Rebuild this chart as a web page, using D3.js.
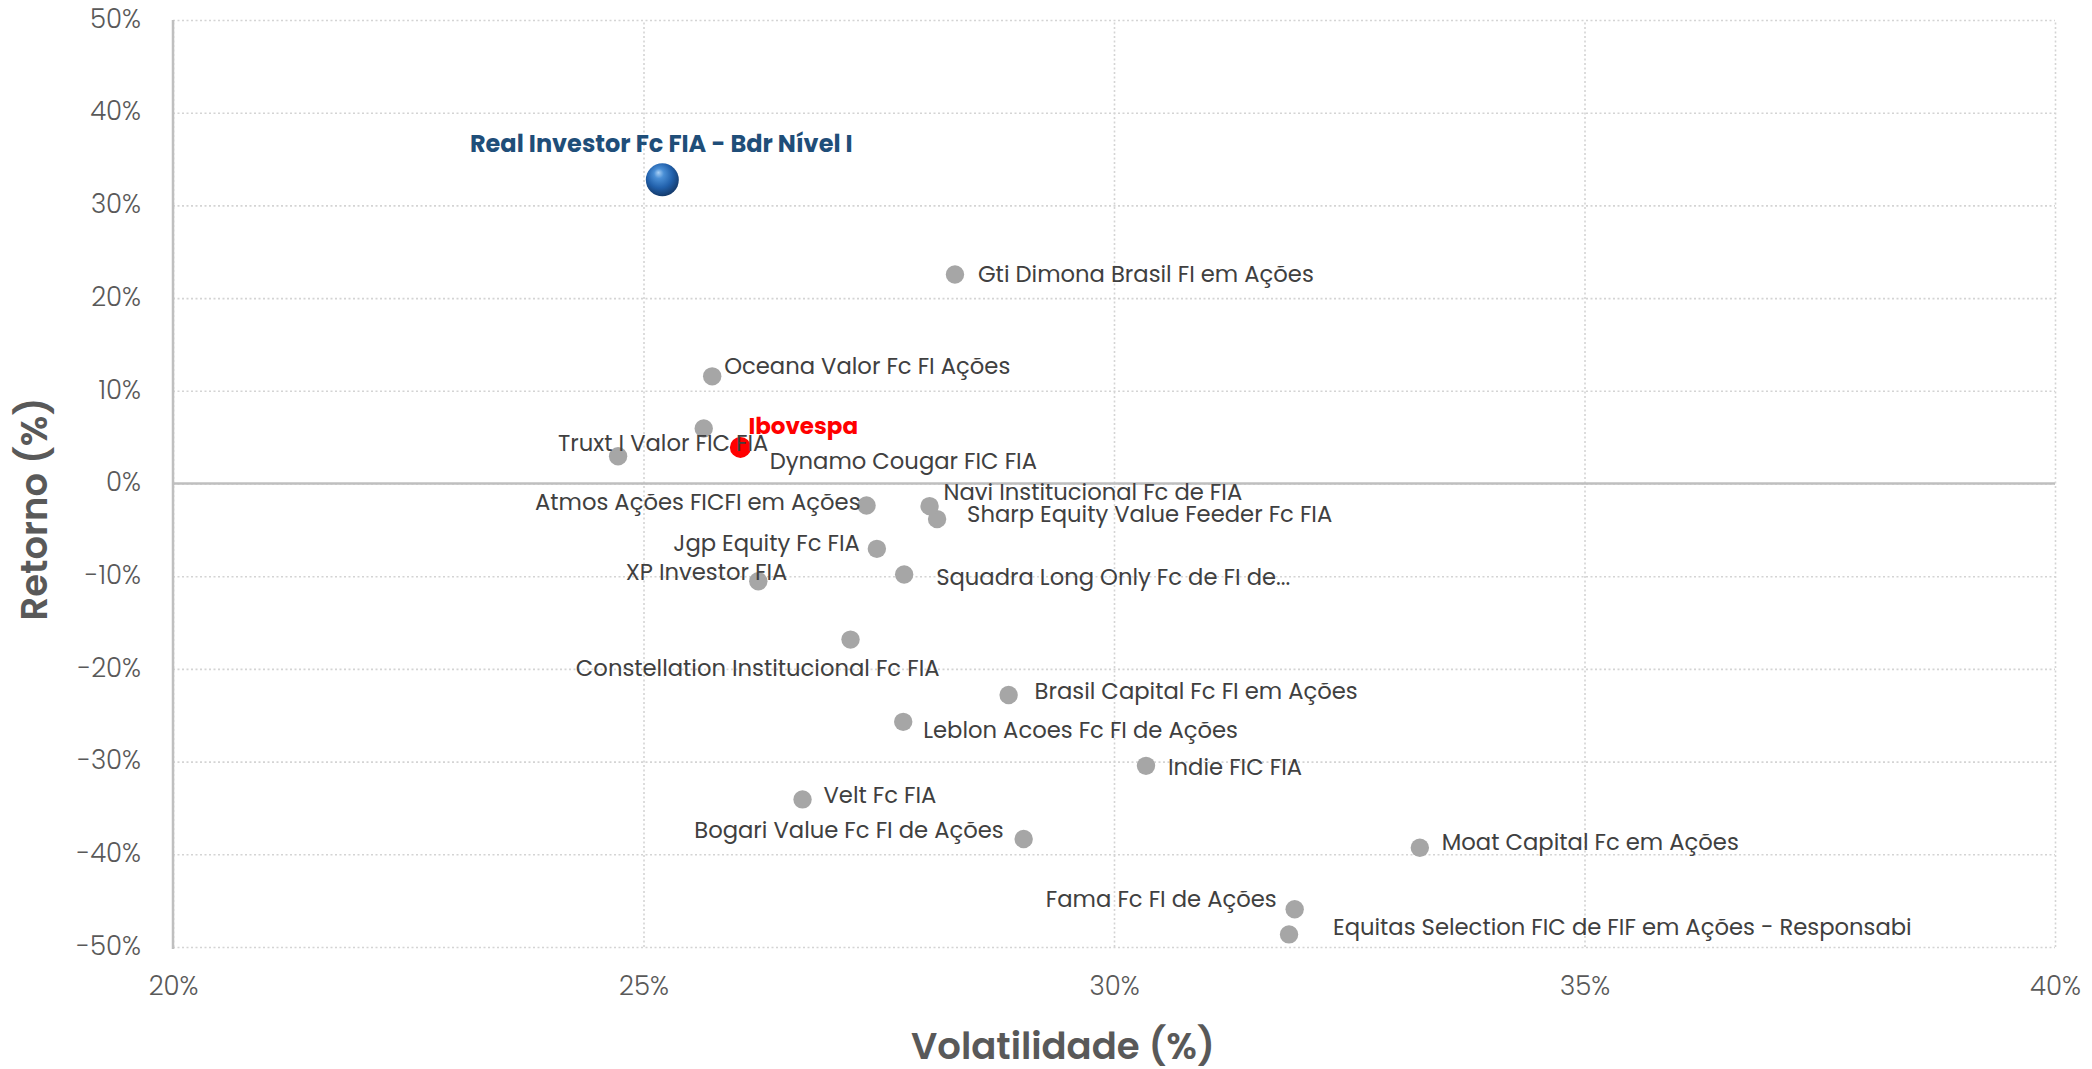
<!DOCTYPE html>
<html>
<head>
<meta charset="utf-8">
<script src="https://cdn.jsdelivr.net/npm/d3@7"></script>
<style>
  body { margin: 0; background: #fff; }
  svg { display: block; font-family: Poppins, "Open Sans", sans-serif; }
</style>
</head>
<body>
<script>
(function () {
  // fund names, volatility (%) and return (%)
  var names = [
    "Real Investor Fc FIA - Bdr Nível I",
    "Ibovespa",
    "Gti Dimona Brasil FI em Ações",
    "Oceana Valor Fc FI Ações",
    "Dynamo Cougar FIC FIA",
    "Truxt I Valor FIC FIA",
    "Atmos Ações FICFI em Ações",
    "Navi Institucional Fc de FIA",
    "Sharp Equity Value Feeder Fc FIA",
    "Jgp Equity Fc FIA",
    "XP Investor FIA",
    "Squadra Long Only Fc de FI de...",
    "Constellation Institucional Fc FIA",
    "Brasil Capital Fc FI em Ações",
    "Leblon Acoes Fc FI de Ações",
    "Indie FIC FIA",
    "Velt Fc FIA",
    "Bogari Value Fc FI de Ações",
    "Moat Capital Fc em Ações",
    "Fama Fc FI de Ações",
    "Equitas Selection FIC de FIF em Ações - Responsabi"
  ];
  var volatility = [25.20, 26.03, 28.31, 25.73, 25.64, 24.73, 27.37, 28.04, 28.12, 27.48,
                    26.22, 27.77, 27.20, 28.88, 27.76, 30.34, 26.69, 29.04, 33.25, 31.92, 31.86];
  var returns = [32.76, 3.89, 22.55, 11.56, 5.93, 2.94, -2.37, -2.44, -3.84, -7.05,
                 -10.54, -9.81, -16.84, -22.81, -25.71, -30.46, -34.08, -38.35, -39.29, -45.92, -48.64];
  var kinds = ["fund", "index"]; // first = highlighted fund, second = benchmark, rest = peers

  var xTicks = [20, 25, 30, 35, 40];
  var yTicks = [-50, -40, -30, -20, -10, 0, 10, 20, 30, 40, 50];

  // label placement: [dx, dy, anchor] relative to the point
  var labelPos = [
    [-1, -36, "middle"], [8, -21, "start"], [23, 0, "start"], [12, -10, "start"],
    [66, 32, "start"], [-60, -13, "start"], [-6, -3, "end"], [14, -14, "start"],
    [30, -5, "start"], [-17, -6, "end"], [29, -9, "end"], [32, 3, "start"],
    [89, 28, "end"], [26, -4, "start"], [20, 8, "start"], [22, 1, "start"],
    [21, -4, "start"], [-20, -9, "end"], [22, -6, "start"], [-18, -10, "end"],
    [44, -7, "start"]
  ];

  var W = 2092, H = 1069;
  var left = 173, right = 2055, top = 20, bottom = 947;

  var svg = d3.select("body").append("svg")
    .attr("width", W)
    .attr("height", H);

  var x = d3.scaleLinear().domain([20, 40]).range([left, right]);
  var y = d3.scaleLinear().domain([-50, 50]).range([bottom, top]);

  var pct = function (d) { return d + "%"; };

  // gridlines
  svg.append("g")
    .attr("transform", "translate(0," + bottom + ")")
    .call(d3.axisBottom(x).tickValues(xTicks).tickSize(-(bottom - top)).tickFormat(""))
    .call(function (g) {
      g.select(".domain").remove();
      g.selectAll("line").attr("stroke", "#d4d4d4").attr("stroke-width", 1.6).attr("stroke-dasharray", "2,2.5");
    });
  svg.append("g")
    .attr("transform", "translate(" + left + ",0)")
    .call(d3.axisLeft(y).tickValues(yTicks).tickSize(-(right - left)).tickFormat(""))
    .call(function (g) {
      g.select(".domain").remove();
      g.selectAll("line").attr("stroke", "#d4d4d4").attr("stroke-width", 1.6).attr("stroke-dasharray", "2,2.5");
    });

  // zero line and y axis line
  svg.append("line")
    .attr("x1", left).attr("x2", right)
    .attr("y1", y(0)).attr("y2", y(0))
    .attr("stroke", "#bfbfbf").attr("stroke-width", 2.5);
  svg.append("line")
    .attr("x1", left).attr("x2", left)
    .attr("y1", top).attr("y2", bottom + 2)
    .attr("stroke", "#bfbfbf").attr("stroke-width", 2.5);

  // tick labels
  var yAxis = svg.append("g")
    .attr("transform", "translate(" + left + ",0)")
    .call(d3.axisLeft(y).tickValues(yTicks).tickSize(0).tickPadding(32).tickFormat(pct));
  var xAxis = svg.append("g")
    .attr("transform", "translate(0," + bottom + ")")
    .call(d3.axisBottom(x).tickValues(xTicks).tickSize(0).tickPadding(30).tickFormat(pct));
  [xAxis, yAxis].forEach(function (g) {
    g.select(".domain").remove();
    g.selectAll("text")
      .attr("fill", "#595959")
      .style("font-family", "Poppins, 'Open Sans', sans-serif")
      .style("font-size", "26px")
      .style("font-weight", "300");
  });
  yAxis.selectAll("text").attr("dy", "0.28em");

  // axis titles
  svg.append("text")
    .attr("x", 1063).attr("y", 1046)
    .attr("text-anchor", "middle").attr("dominant-baseline", "central")
    .attr("fill", "#595959")
    .style("font-size", "37px").style("font-weight", "600")
    .text("Volatilidade (%)");
  svg.append("text")
    .attr("transform", "translate(34,509) rotate(-90)")
    .attr("text-anchor", "middle").attr("dominant-baseline", "central")
    .attr("fill", "#595959")
    .style("font-size", "37px").style("font-weight", "600")
    .text("Retorno (%)");

  // sphere gradient for highlighted fund
  var defs = svg.append("defs");
  var grad = defs.append("radialGradient")
    .attr("id", "sphere")
    .attr("cx", "45%").attr("cy", "40%").attr("r", "60%")
    .attr("fx", "38%").attr("fy", "28%");
  grad.append("stop").attr("offset", "0%").attr("stop-color", "#a9d0f5");
  grad.append("stop").attr("offset", "25%").attr("stop-color", "#4a8fd6");
  grad.append("stop").attr("offset", "65%").attr("stop-color", "#2160ab");
  grad.append("stop").attr("offset", "100%").attr("stop-color", "#143a6b");

  var data = names.map(function (n, i) {
    return { name: n, vol: volatility[i], ret: returns[i], kind: kinds[i] || "peer", pos: labelPos[i] };
  });

  // points
  svg.append("g").selectAll("circle")
    .data(data.slice().reverse())
    .enter()
    .append("circle")
    .attr("cx", function (d) { return x(d.vol); })
    .attr("cy", function (d) { return y(d.ret); })
    .attr("r", function (d) { return d.kind === "fund" ? 16.5 : d.kind === "index" ? 10.5 : 9.2; })
    .attr("fill", function (d) {
      return d.kind === "fund" ? "url(#sphere)" : d.kind === "index" ? "#ff0000" : "#a6a6a6";
    });

  // labels
  svg.append("g").selectAll("text")
    .data(data)
    .enter()
    .append("text")
    .attr("x", function (d) { return x(d.vol) + d.pos[0]; })
    .attr("y", function (d) { return y(d.ret) + d.pos[1]; })
    .attr("text-anchor", function (d) { return d.pos[2]; })
    .attr("dominant-baseline", "central")
    .attr("fill", function (d) {
      return d.kind === "fund" ? "#1f4e79" : d.kind === "index" ? "#ff0000" : "#404040";
    })
    .style("font-size", function (d) { return d.kind === "fund" ? "24px" : d.kind === "index" ? "23px" : "22.7px"; })
    .style("font-weight", function (d) { return d.kind === "peer" ? "400" : "700"; })
    .text(function (d) { return d.name; });
})();
</script>
</body>
</html>
